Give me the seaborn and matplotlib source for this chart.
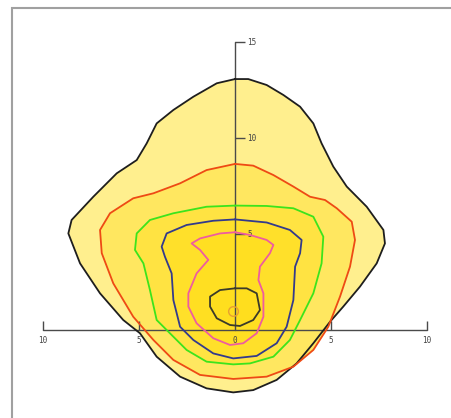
import numpy as np
import pandas as pd
import seaborn as sns
import matplotlib.pyplot as plt
from matplotlib.patches import Rectangle

### contour outlines (data units), outermost first
c1_x = [0, 0.69, 1.65, 2.52, 3.39, 4.08, 4.51, 5.12, 5.82, 6.86, 7.73, 7.81, 7.38, 6.51, 5.64, 4.95,
        4.08, 3.21, 2.17, 0.95, -0.09, -1.48, -2.86, -4.08, -4.95, -5.82, -7.03, -8.07, -8.68, -8.51,
        -7.38, -6.16, -5.12, -4.6, -4.08, -3.21, -2.17, -0.95]
c1_y = [13.07, 13.07, 12.76, 12.24, 11.63, 10.76, 9.72, 8.51, 7.47, 6.42, 5.21, 4.51, 3.47, 2.26, 1.22, 0.43,
        -0.69, -1.74, -2.6, -3.13, -3.25, -3.04, -2.43, -1.39, -0.17, 0.52, 1.91, 3.47, 5.03, 5.73,
        6.94, 8.16, 8.85, 9.72, 10.76, 11.46, 12.15, 12.85]

c2_x = [0, 0.95, 2.0, 3.04, 3.91, 4.69, 5.3, 6.08, 6.25, 5.99, 5.47, 4.86, 4.08, 3.04, 1.65, -0.09,
        -1.82, -3.21, -4.25, -5.3, -6.34, -6.94, -7.03, -6.51, -5.3, -4.25, -2.86, -1.48]
c2_y = [8.65, 8.56, 8.07, 7.47, 6.94, 6.77, 6.34, 5.64, 4.69, 3.3, 1.74, 0.17, -1.04, -1.91, -2.43, -2.55,
        -2.34, -1.56, -0.52, 0.69, 2.43, 4.0, 5.21, 6.08, 6.86, 7.12, 7.64, 8.33]

c3_x = [0, 1.65, 3.04, 4.08, 4.6, 4.51, 4.08, 3.39, 2.86, 2.0, 0.78, -0.09, -1.48, -2.52, -3.39, -4.08,
        -4.43, -4.77, -5.21, -5.12, -4.43, -3.21, -1.48]
c3_y = [6.48, 6.46, 6.34, 5.9, 4.86, 3.47, 1.91, 0.52, -0.52, -1.39, -1.74, -1.79, -1.65, -1.04, -0.17, 0.52,
        2.08, 3.47, 4.17, 5.03, 5.73, 6.08, 6.42]

c4_x = [0, 1.65, 2.86, 3.47, 3.39, 3.13, 3.04, 2.69, 2.17, 1.13, -0.09, -1.13, -2.17, -2.86, -3.21, -3.3,
        -3.65, -3.82, -3.56, -2.52, -1.13]
c4_y = [5.76, 5.6, 5.21, 4.69, 4.0, 3.3, 1.56, 0.17, -0.69, -1.35, -1.48, -1.22, -0.52, 0.17, 1.56, 2.95,
        3.82, 4.34, 5.03, 5.47, 5.69]

c5_x = [0, 0.78, 1.65, 2.0, 1.82, 1.3, 1.22, 1.48, 1.48, 1.13, 0.43, -0.26, -1.13, -2.0, -2.43, -2.43,
        -2.0, -1.39, -1.82, -2.26, -1.82, -0.78]
c5_y = [5.09, 4.95, 4.69, 4.43, 4.0, 3.3, 2.6, 1.91, 0.69, -0.17, -0.69, -0.78, -0.43, 0.35, 1.22, 1.91,
        2.95, 3.65, 4.17, 4.51, 4.77, 5.03]

c6_x = [0, 0.61, 1.13, 1.3, 0.95, 0.26, -0.26, -0.95, -1.3, -1.3, -0.78]
c6_y = [2.17, 2.17, 1.91, 1.04, 0.52, 0.21, 0.26, 0.61, 1.22, 1.74, 2.08]

peak_x = [-0.09]
peak_y = [1.0]

levels = ["L1", "L2", "L3", "L4", "L5", "L6"]
outlines = [(c1_x, c1_y), (c2_x, c2_y), (c3_x, c3_y), (c4_x, c4_y), (c5_x, c5_y), (c6_x, c6_y)]
fill_colors = ["#FFEF8E", "#FFE760", "#FFE342", "#FFE02A", "#FFDF22", "#FFDE1E"]
line_colors = ["#1E1E1E", "#EE4A14", "#3CE41C", "#333A8C", "#EE5CA0", "#3A3A2A"]

x_ticks = [-10, -5, 0, 5, 10]
x_labels = ["10", "5", "0", "5", "10"]
y_ticks = [5, 10, 15]
y_labels = ["5", "10", "15"]

### long table for seaborn, closing every ring
rows = []
for lev, (xs, ys) in zip(levels, outlines):
    for i in range(len(xs) + 1):
        rows.append({"level": lev, "order": i, "x": xs[i % len(xs)], "y": ys[i % len(ys)]})
df = pd.DataFrame(rows)

sns.set_theme(style="white")
plt.rcParams['font.family'] = ['DejaVu Sans Mono', 'DejaVu Sans']

fig = plt.figure(figsize=(4.52, 4.18), dpi=100)
ax = fig.add_axes([0, 0, 1, 1])
ax.set_xlim(-235 / 19.2, 217 / 19.2)
ax.set_ylim(-88 / 19.2, 330 / 19.2)
ax.set_aspect("equal")
ax.axis("off")

for lev, col in zip(levels, fill_colors):
    part = df[df["level"] == lev]
    ax.fill(part["x"], part["y"], color=col, zorder=1, lw=0)

### axes drawn over the fills
ax.plot([x_ticks[0], x_ticks[-1]], [0, 0], color="#4A4A4A", lw=1, zorder=2)
ax.plot([0, 0], [0, y_ticks[-1]], color="#4A4A4A", lw=1, zorder=2)
ax.vlines([t for t in x_ticks if t != 0], 0, 0.45, color="#4A4A4A", lw=1, zorder=2)
ax.hlines(y_ticks, 0, 0.5, color="#4A4A4A", lw=1, zorder=2)
for t, lab in zip(x_ticks, x_labels):
    ax.text(t, -0.55, lab, ha="center", va="center", fontsize=5.5, color="#444444")
for t, lab in zip(y_ticks, y_labels):
    ax.text(0.65, t, lab, ha="left", va="center", fontsize=5.5, color="#444444")

sns.lineplot(data=df, x="x", y="y", hue="level", palette=line_colors, sort=False,
             estimator=None, units="level", lw=1.3, legend=False, ax=ax, zorder=3,
             solid_joinstyle="round")
ax.plot(peak_x, peak_y, marker="o", ms=7, mfc="none", mec="#E8A030", mew=1, zorder=4)

ax.add_patch(Rectangle((12.5 / 452, -0.1), 1.2, 1.1 - 8.5 / 418, transform=ax.transAxes,
                       fill=False, ec="#A0A0A0", lw=1.5, zorder=5))

fig.savefig("out.png", dpi=100)
